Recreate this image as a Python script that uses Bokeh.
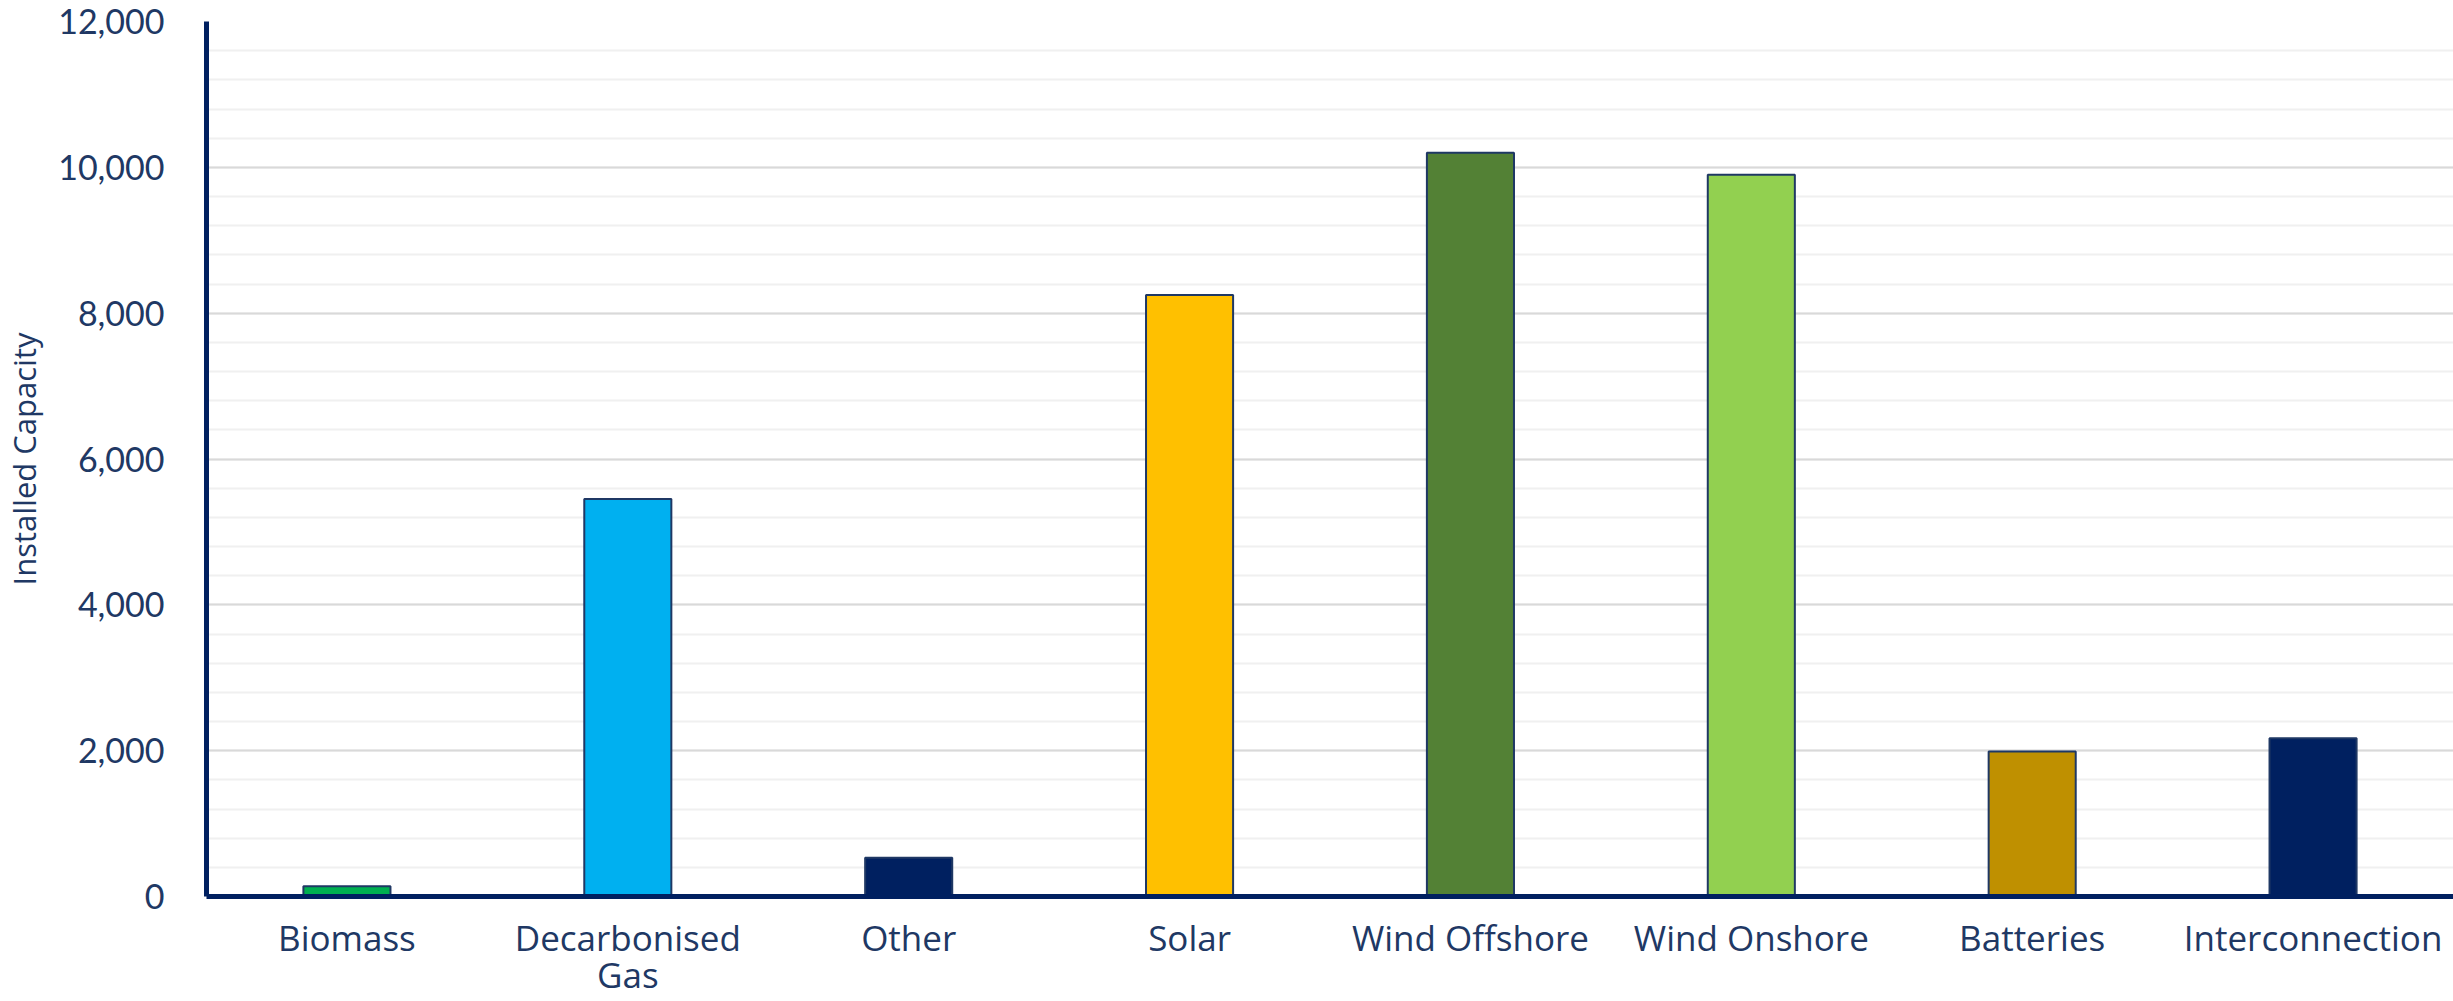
from bokeh.plotting import figure
from bokeh.models import FixedTicker, NumeralTickFormatter, ColumnDataSource, Range1d, FactorRange
from bokeh.embed import file_html
from bokeh.resources import INLINE

# ---- data ----
categories = ["Biomass", "Decarbonised\nGas", "Other", "Solar",
              "Wind Offshore", "Wind Onshore", "Batteries", "Interconnection"]
capacity = [140, 5450, 530, 8250, 10200, 9900, 1990, 2170]
bar_colors = ["#00B050", "#00B0F0", "#002060", "#FFC000",
              "#538135", "#92D050", "#BF9000", "#002060"]
y_major_ticks = [0, 2000, 4000, 6000, 8000, 10000, 12000]
y_minor_ticks = list(range(0, 12001, 400))
y_label = "Installed Capacity"

NAVY = "#002060"
TEXT = "#203864"
FONT = "Open Sans"

src = ColumnDataSource(dict(cat=categories, val=capacity, color=bar_colors))

p = figure(width=2453, height=1001, x_range=FactorRange(*categories),
           y_range=Range1d(0, 12000), output_backend="svg",
           toolbar_location=None, tools="")
p.min_border_left = 206
p.min_border_right = 0
p.min_border_top = 21
p.min_border_bottom = 105
p.outline_line_color = None
p.background_fill_color = "white"
p.border_fill_color = "white"

p.vbar(x="cat", top="val", width=0.31, source=src, fill_color="color",
       line_color="#1F3864", line_width=2)

# y axis
ya = p.yaxis[0]
ya.ticker = FixedTicker(ticks=y_major_ticks, minor_ticks=y_minor_ticks)
ya.formatter = NumeralTickFormatter(format="0,0")
ya.axis_line_color = NAVY
ya.axis_line_width = 5
ya.major_tick_line_color = None
ya.minor_tick_line_color = None
ya.major_tick_out = 0
ya.major_tick_in = 0
ya.minor_tick_out = 0
ya.minor_tick_in = 0
ya.major_label_text_font = "Lato"
ya.major_label_text_font_size = "34px"
ya.major_label_text_color = TEXT
ya.major_label_standoff = 42
ya.axis_label = y_label
ya.axis_label_text_font = FONT
ya.axis_label_text_font_size = "31px"
ya.axis_label_text_font_style = "normal"
ya.axis_label_text_color = TEXT
ya.axis_label_standoff = 10

# x axis
xa = p.xaxis[0]
xa.axis_line_color = NAVY
xa.axis_line_width = 5
xa.major_tick_line_color = None
xa.minor_tick_line_color = None
xa.major_tick_out = 0
xa.major_tick_in = 0
xa.minor_tick_out = 0
xa.minor_tick_in = 0
xa.major_label_text_font = FONT
xa.major_label_text_font_size = "35px"
xa.major_label_text_color = TEXT
xa.major_label_text_line_height = 0.8
xa.major_label_standoff = 17
xa.major_label_orientation = "horizontal"

# grids
p.xgrid.grid_line_color = None
p.ygrid.grid_line_color = "#D9D9D9"
p.ygrid.grid_line_width = 2
p.ygrid.minor_grid_line_color = "#F0F0F0"
p.ygrid.minor_grid_line_width = 2

open("out.html", "w").write(file_html(p, INLINE))
